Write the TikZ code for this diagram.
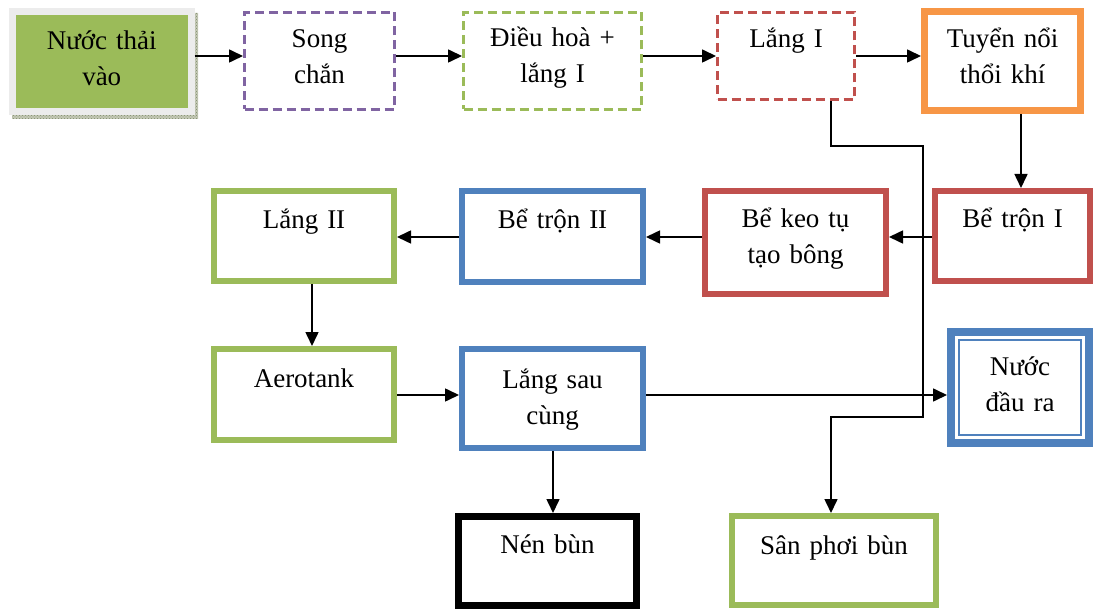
\documentclass[tikz,border=0pt]{standalone}
\usepackage{fontspec}
\setmainfont{Liberation Serif}
\usetikzlibrary{arrows.meta,calc,patterns}

\definecolor{bgreen}{HTML}{9BBB59}
\definecolor{bpurple}{HTML}{8064A2}
\definecolor{bred}{HTML}{C0504D}
\definecolor{borange}{HTML}{F79646}
\definecolor{bblue}{HTML}{4F81BD}
\definecolor{frame}{HTML}{ECECEC}
\definecolor{shadebase}{HTML}{C4C9B6}
\definecolor{shadedot}{HTML}{7F8A6C}

\newcommand\blkfont{\fontsize{27pt}{36pt}\selectfont}

% blocks are placed by the outer edge of their frame (north anchor)
\tikzset{
  blk/.style={rectangle, inner sep=0pt, align=center, font=\blkfont, anchor=north},
  solidbox/.style={blk, draw=#1, line width=6pt},
  heavybox/.style={blk, draw=#1, line width=7pt},
  dashbox/.style={blk, draw=#1, line width=3pt, dash pattern=on 9pt off 5pt},
  arr/.style={line width=1.6pt, -{Triangle[length=14pt,width=13pt]}},
}

\begin{document}
\begin{tikzpicture}[x=1pt,y=-1pt]
\useasboundingbox (0,0) rectangle (1094,609);

% rows and columns the connectors run along
\coordinate (row1) at (0,56);
\coordinate (row2) at (0,237);
\coordinate (row3) at (0,395);
\coordinate (colA) at (1021,0);
\coordinate (colB) at (312,0);
\coordinate (colC) at (553,0);
\coordinate (colD) at (831,0);
\coordinate (bend1) at (923,146);
\coordinate (bend2) at (923,417);

% textured shadow of the inlet block
\fill[shadebase] (194,13) rectangle (198,119) (12,115) rectangle (198,119);
\fill[pattern=crosshatch dots, pattern color=shadedot] (194,13) rectangle (198,119) (12,115) rectangle (198,119);

% top row
\node[blk, draw=frame, line width=7pt, fill=bgreen, text width=178.5pt, text height=38.5pt, text depth=61.5pt] (nuocthai) at (101.75,8) {Nước thải\\vào};
\node[dashbox=bpurple, text width=150pt, text height=35pt, text depth=62pt] (song) at (319.5,11) {Song\\chắn};
\node[dashbox=bgreen, text width=178pt, text height=34.5pt, text depth=62.5pt] (dieuhoa) at (552.5,11) {Điều hoà +\\lắng I};
\node[dashbox=bred, text width=137pt, text height=35pt, text depth=52pt] (lang1) at (786,11) {Lắng I};
\node[heavybox=borange, text width=156pt, text height=36.5pt, text depth=62.5pt] (tuyen) at (1002.5,8) {Tuyển nổi\\thổi khí};

% middle row
\node[solidbox=bred, text width=155pt, text height=37pt, text depth=53pt] (betron1) at (1012.5,188) {Bể trộn I};
\node[solidbox=bred, text width=181pt, text height=37pt, text depth=66pt] (keotu) at (795.5,188) {Bể keo tụ\\tạo bông};
\node[solidbox=bblue, text width=181pt, text height=38pt, text depth=53pt] (betron2) at (552.5,188) {Bể trộn II};
\node[solidbox=bgreen, text width=180pt, text height=38pt, text depth=52pt] (lang2) at (304,188) {Lắng II};

% lower rows
\node[solidbox=bgreen, text width=180pt, text height=38pt, text depth=53pt] (aerotank) at (304,346) {Aerotank};
\node[solidbox=bblue, text width=181pt, text height=39pt, text depth=60pt] (langsau) at (552.5,346) {Lắng sau\\cùng};
% outlet block: thick outer frame with a thin inner frame
\node[blk, draw=bblue, line width=8pt, text width=138pt, text height=43pt, text depth=68pt] (nuocra) at (1020,328) {Nước\\đầu ra};
\draw[draw=bblue, line width=2pt] ([shift={(12,12)}]nuocra.north west) rectangle ([shift={(-12,-12)}]nuocra.south east);
\node[heavybox=black, text width=178pt, text height=36.5pt, text depth=52.5pt] (nenbun) at (547.5,513) {Nén bùn};
\node[solidbox=bgreen, text width=204pt, text height=38pt, text depth=51pt] (sanphoi) at (834,513) {Sân phơi bùn};

% connectors
\draw[arr] (nuocthai.east |- row1) -- (song.west |- row1);
\draw[arr] (song.east |- row1) -- (dieuhoa.west |- row1);
\draw[arr] (dieuhoa.east |- row1) -- (lang1.west |- row1);
\draw[arr] (lang1.east |- row1) -- (tuyen.west |- row1);
\draw[arr] (tuyen.south -| colA) -- (betron1.north -| colA);
\draw[arr] (betron1.west |- row2) -- (keotu.east |- row2);
\draw[arr] (keotu.west |- row2) -- (betron2.east |- row2);
\draw[arr] (betron2.west |- row2) -- (lang2.east |- row2);
\draw[arr] (lang2.south -| colB) -- (aerotank.north -| colB);
\draw[arr] (aerotank.east |- row3) -- (langsau.west |- row3);
\draw[arr] (langsau.east |- row3) -- (nuocra.west |- row3);
\draw[arr] (langsau.south -| colC) -- (nenbun.north -| colC);
\draw[arr] (lang1.south -| colD) |- (bend1) -- (bend2) -| (sanphoi.north -| colD);
\end{tikzpicture}
\end{document}
